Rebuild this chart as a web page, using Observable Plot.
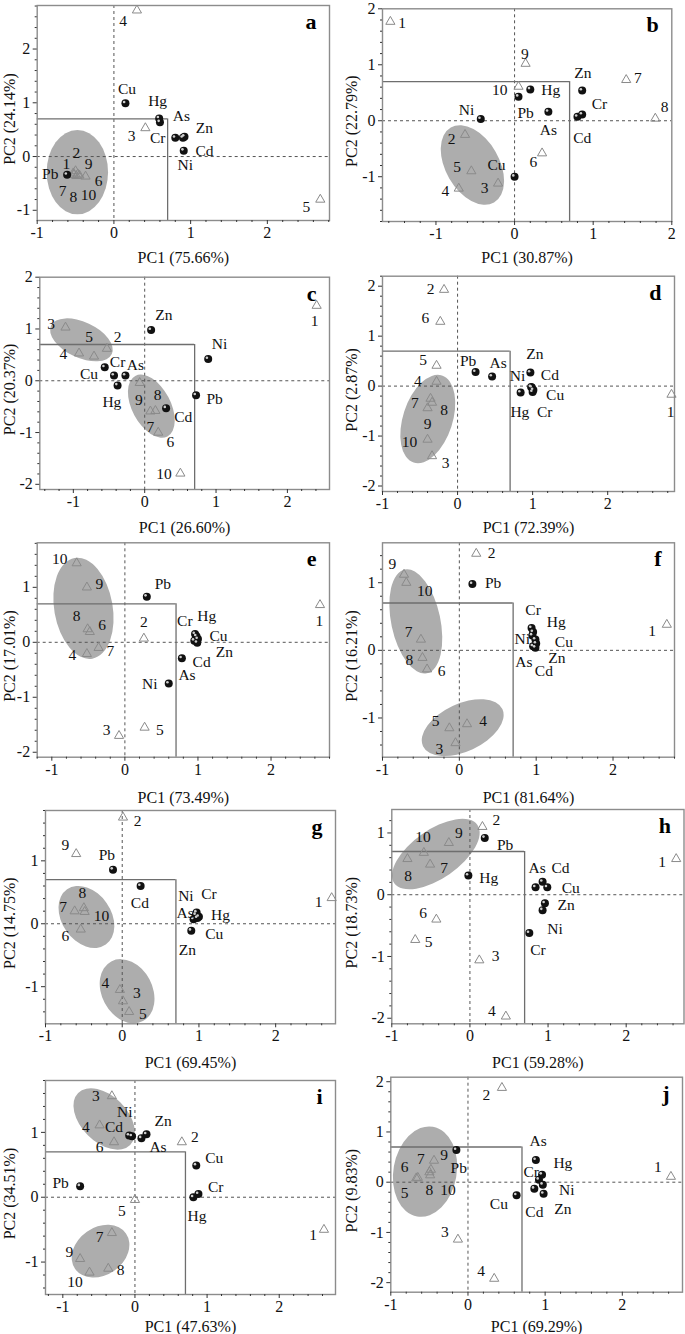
<!DOCTYPE html>
<html><head><meta charset="utf-8">
<script src="https://cdn.jsdelivr.net/npm/d3@7"></script>
<script src="https://cdn.jsdelivr.net/npm/@observablehq/plot@0.6"></script>
<style>
body{margin:0;background:#fff;}
#wrap{position:relative;width:685px;height:1334px;overflow:hidden;}
.panel{position:absolute;}
g[aria-label="y-title"] text{letter-spacing:1.6px;}
</style></head><body><div id="wrap"></div>
<script>
// ---------- data: [name, PC1, PC2] ----------
const panelIds = ["a","b","c","d","e","f","g","h","i","j"];
const pc1Titles = ["PC1 (75.66%)","PC1 (30.87%)","PC1 (26.60%)","PC1 (72.39%)","PC1 (73.49%)","PC1 (81.64%)","PC1 (69.45%)","PC1 (59.28%)","PC1 (47.63%)","PC1 (69.29%)"];
const pc2Titles = ["PC2 (24.14%)","PC2 (22.79%)","PC2 (20.37%)","PC2 (2.87%)","PC2 (17.01%)","PC2 (16.21%)","PC2 (14.75%)","PC2 (18.73%)","PC2 (34.51%)","PC2 (9.83%)"];
const xTickValues = [-1,0,1,2];
const yTickValues = [[-1,0,1,2],[-1,0,1,2],[-2,-1,0,1,2],[-2,-1,0,1,2],[-2,-1,0,1],[-1,0,1],[-1,0,1],[-2,-1,0,1],[-1,0,1],[-2,-1,0,1,2]];
const boxThreshold = 0.7;

const elemA = [["Cu",0.15,0.99],["Hg",0.59,0.71],["As",0.60,0.64],["Cr",0.80,0.35],["Zn",0.92,0.37],["Ni",0.90,0.35],["Cd",0.91,0.11],["Pb",-0.61,-0.34]];
const sampA = [[1,-0.53,-0.31],[2,-0.50,-0.27],[3,0.41,0.53],[4,0.30,2.72],[5,2.69,-0.80],[6,-0.37,-0.37],[7,-0.52,-0.34],[8,-0.49,-0.36],[9,-0.47,-0.33],[10,-0.45,-0.35]];
const labA = [["4",0.12,2.52],["Cu",0.17,1.26],["Hg",0.57,1.04],["As",0.88,0.75],["Zn",1.18,0.53],["3",0.23,0.39],["Cr",0.57,0.35],["Cd",1.18,0.11],["Ni",0.93,-0.16],["2",-0.49,0.06],["1",-0.62,-0.14],["9",-0.33,-0.14],["Pb",-0.83,-0.32],["6",-0.20,-0.45],["7",-0.67,-0.65],["8",-0.53,-0.76],["10",-0.33,-0.71],["5",2.51,-0.94]];
const ellA = [[-0.47,-0.30,0.40,0.55,0]];

const elemB = [["Ni",-0.43,0.03],["Pb",0.05,0.43],["Hg",0.20,0.56],["As",0.43,0.16],["Zn",0.86,0.54],["Cr",0.86,0.11],["Cd",0.80,0.07],["Cu",0.0,-1.0]];
const sampB = [[1,-1.58,1.77],[2,-0.63,-0.25],[3,-0.21,-1.12],[4,-0.71,-1.21],[5,-0.55,-0.90],[6,0.35,-0.58],[7,1.42,0.73],[8,1.79,0.04],[9,0.14,1.02],[10,0.05,0.61]];
const labB = [["1",-1.43,1.75],["9",0.13,1.19],["Zn",0.87,0.85],["7",1.57,0.76],["10",-0.19,0.55],["Hg",0.46,0.54],["Cr",1.08,0.29],["8",1.91,0.25],["Ni",-0.61,0.19],["Pb",0.14,0.13],["As",0.43,-0.16],["Cd",0.86,-0.31],["2",-0.80,-0.32],["6",0.24,-0.74],["5",-0.73,-0.83],["Cu",-0.23,-0.79],["4",-0.88,-1.25],["3",-0.38,-1.21]];
const ellB = [[-0.53,-0.80,0.55,0.34,60]];

const elemC = [["Zn",0.09,0.98],["Ni",0.89,0.42],["Cu",-0.56,0.26],["Cr",-0.43,0.10],["As",-0.27,0.10],["Hg",-0.38,-0.09],["Pb",0.72,-0.28],["Cd",0.30,-0.53]];
const sampC = [[1,2.41,1.45],[2,-0.53,0.62],[3,-1.11,1.03],[4,-0.92,0.53],[5,-0.71,0.47],[6,0.19,-1.0],[7,0.08,-0.59],[8,0.15,-0.58],[9,-0.07,-0.04],[10,0.50,-1.79]];
const labC = [["1",2.38,1.16],["Zn",0.27,1.27],["3",-1.31,1.10],["5",-0.78,0.84],["2",-0.38,0.85],["Ni",1.05,0.71],["4",-1.14,0.52],["Cr",-0.38,0.37],["As",-0.13,0.31],["Cu",-0.78,0.13],["Hg",-0.46,-0.41],["9",-0.08,-0.37],["8",0.18,-0.28],["Pb",0.98,-0.35],["Cd",0.54,-0.70],["7",0.08,-0.89],["6",0.36,-1.18],["10",0.27,-1.81]];
const ellC = [[-0.88,0.78,0.47,0.25,25],[0.10,-0.50,0.48,0.27,62]];

const elemD = [["Pb",0.24,0.28],["As",0.46,0.19],["Zn",0.97,0.27],["Ni",0.98,-0.02],["Cd",0.99,-0.03],["Cu",1.01,-0.08],["Cr",1.0,-0.12],["Hg",0.84,-0.13]];
const sampD = [[1,2.85,-0.17],[2,-0.18,1.93],[3,-0.34,-1.40],[4,-0.28,0.09],[5,-0.28,0.41],[6,-0.23,1.29],[7,-0.36,-0.25],[8,-0.34,-0.33],[9,-0.40,-0.44],[10,-0.40,-1.07]];
const labD = [["2",-0.36,1.95],["6",-0.43,1.36],["Zn",1.03,0.65],["5",-0.46,0.53],["Pb",0.14,0.51],["As",0.54,0.46],["Ni",0.80,0.21],["Cd",1.23,0.23],["4",-0.53,0.11],["Cu",1.30,-0.17],["7",-0.57,-0.34],["8",-0.18,-0.47],["Hg",0.83,-0.51],["Cr",1.16,-0.51],["1",2.84,-0.52],["9",-0.40,-0.75],["10",-0.64,-1.12],["3",-0.16,-1.54]];
const ellD = [[-0.39,-0.67,0.61,0.33,-72]];

const elemE = [["Pb",0.30,0.83],["Cr",0.96,0.15],["Hg",0.98,0.11],["Cu",1.0,0.06],["Cd",0.95,0.03],["Zn",0.99,-0.01],["As",0.78,-0.29],["Ni",0.60,-0.75]];
const sampE = [[1,2.67,0.68],[2,0.26,0.07],[3,-0.08,-1.70],[4,-0.52,-0.21],[5,0.27,-1.55],[6,-0.48,0.19],[7,-0.36,-0.10],[8,-0.51,0.24],[9,-0.52,1.0],[10,-0.66,1.44]];
const labE = [["10",-0.89,1.52],["Pb",0.52,1.06],["9",-0.35,1.06],["8",-0.66,0.47],["6",-0.31,0.32],["2",0.26,0.36],["Cr",0.82,0.38],["Hg",1.12,0.47],["1",2.66,0.39],["Cu",1.28,0.12],["Zn",1.36,-0.18],["7",-0.20,-0.15],["4",-0.72,-0.23],["Cd",1.05,-0.35],["As",0.85,-0.59],["Ni",0.34,-0.76],["3",-0.25,-1.59],["5",0.48,-1.59]];
const ellE = [[-0.56,0.61,0.70,0.40,80]];

const elemF = [["Pb",0.17,0.98],["Cr",0.94,0.33],["Hg",0.96,0.27],["Ni",0.95,0.22],["Cu",0.99,0.16],["Zn",1.0,0.10],["As",0.96,0.06],["Cd",0.99,0.04]];
const sampF = [[1,2.70,0.38],[2,0.22,1.43],[3,-0.05,-1.37],[4,0.10,-1.09],[5,-0.13,-1.15],[6,-0.42,-0.28],[7,-0.50,0.16],[8,-0.48,-0.11],[9,-0.72,1.12],[10,-0.69,1.0]];
const labF = [["2",0.42,1.44],["9",-0.87,1.27],["Pb",0.44,1.0],["10",-0.45,0.88],["Cr",0.96,0.59],["Hg",1.26,0.42],["7",-0.66,0.27],["1",2.51,0.28],["Ni",0.82,0.16],["Cu",1.36,0.12],["8",-0.65,-0.15],["Zn",1.27,-0.11],["As",0.84,-0.17],["6",-0.23,-0.31],["Cd",1.10,-0.31],["4",0.31,-1.04],["5",-0.31,-1.04],["3",-0.26,-1.46]];
const ellF = [[-0.56,0.42,0.69,0.32,78],[0.05,-1.15,0.57,0.31,-25]];

const elemG = [["Pb",-0.12,0.86],["Cd",0.24,0.60],["Cr",0.97,0.18],["Ni",0.96,0.14],["Hg",1.0,0.11],["As",0.93,0.07],["Cu",0.98,0.09],["Zn",0.90,-0.11]];
const sampG = [[1,2.73,0.41],[2,0.01,1.69],[3,0.01,-1.23],[4,-0.03,-1.05],[5,0.09,-1.40],[6,-0.54,-0.09],[7,-0.62,0.20],[8,-0.50,0.25],[9,-0.60,1.11],[10,-0.49,0.19]];
const labG = [["2",0.20,1.64],["9",-0.74,1.25],["Pb",-0.20,1.10],["8",-0.52,0.49],["Ni",0.83,0.44],["Cr",1.13,0.48],["Cd",0.23,0.33],["1",2.56,0.34],["7",-0.77,0.26],["As",0.82,0.17],["Hg",1.28,0.14],["10",-0.27,0.12],["6",-0.74,-0.20],["Cu",1.20,-0.16],["Zn",0.85,-0.41],["4",-0.22,-0.95],["3",0.19,-1.10],["5",0.27,-1.43]];
const ellG = [[-0.46,0.10,0.44,0.32,55],[0.07,-1.08,0.44,0.33,62]];

const elemH = [["Pb",0.19,0.92],["Hg",-0.02,0.31],["As",0.84,0.12],["Cd",0.93,0.21],["Cu",0.99,0.12],["Zn",0.96,-0.14],["Ni",0.93,-0.25],["Cr",0.76,-0.62]];
const sampH = [[1,2.64,0.58],[2,0.16,1.10],[3,0.12,-1.06],[4,0.46,-1.97],[5,-0.70,-0.73],[6,-0.43,-0.40],[7,-0.51,0.49],[8,-0.80,0.58],[9,-0.27,0.84],[10,-0.59,0.68]];
const labH = [["2",0.34,1.21],["10",-0.60,0.94],["9",-0.14,1.0],["Pb",0.45,0.80],["As",0.86,0.43],["Cd",1.16,0.43],["1",2.46,0.53],["7",-0.33,0.43],["8",-0.79,0.30],["Hg",0.24,0.27],["Cu",1.29,0.11],["Zn",1.23,-0.16],["6",-0.60,-0.29],["Ni",1.09,-0.55],["5",-0.53,-0.77],["Cr",0.87,-0.89],["3",0.33,-0.99],["4",0.28,-1.88]];
const ellH = [[-0.43,0.65,0.65,0.31,-35]];

const elemI = [["Ni",-0.08,0.95],["Cd",-0.04,0.94],["As",0.09,0.91],["Zn",0.16,0.97],["Pb",-0.76,0.17],["Cu",0.85,0.49],["Cr",0.88,0.05],["Hg",0.81,0.0]];
const sampI = [[1,2.62,-0.50],[2,0.65,0.85],[3,-0.32,1.56],[4,-0.49,1.11],[5,0.0,-0.04],[6,-0.29,0.85],[7,-0.32,-0.55],[8,-0.37,-1.10],[9,-0.76,-0.95],[10,-0.63,-1.16]];
const labI = [["3",-0.54,1.56],["Ni",-0.14,1.31],["Zn",0.39,1.17],["4",-0.68,1.09],["Cd",-0.29,1.09],["2",0.83,0.93],["6",-0.49,0.78],["As",0.32,0.78],["Cu",1.10,0.61],["Pb",-1.03,0.22],["Cr",1.12,0.15],["5",-0.18,-0.21],["Hg",0.86,-0.29],["7",-0.49,-0.62],["1",2.47,-0.59],["9",-0.91,-0.85],["8",-0.20,-1.12],["10",-0.83,-1.31]];
const ellI = [[-0.42,1.20,0.51,0.32,45],[-0.47,-0.84,0.43,0.33,-35]];

const elemJ = [["Pb",-0.15,0.64],["As",0.88,0.44],["Hg",0.96,0.15],["Cr",0.92,0.05],["Ni",0.97,-0.05],["Cd",0.86,-0.13],["Zn",0.98,-0.23],["Cu",0.63,-0.26]];
const sampJ = [[1,2.63,0.11],[2,0.44,1.88],[3,-0.13,-1.14],[4,0.34,-1.92],[5,-0.67,0.08],[6,-0.65,0.09],[7,-0.48,0.25],[8,-0.49,0.14],[9,-0.44,0.43],[10,-0.50,0.20]];
const labJ = [["2",0.24,1.74],["As",0.91,0.81],["7",-0.61,0.46],["9",-0.31,0.55],["Hg",1.23,0.39],["6",-0.82,0.30],["Pb",-0.12,0.28],["1",2.46,0.30],["Cr",0.82,0.21],["Ni",1.28,-0.16],["5",-0.82,-0.22],["8",-0.50,-0.16],["10",-0.26,-0.16],["Cu",0.40,-0.43],["Cd",0.86,-0.59],["Zn",1.23,-0.53],["3",-0.30,-0.99],["4",0.17,-1.76]];
const ellJ = [[-0.55,0.20,0.59,0.41,-80]];

// ---------- layout (placement of each panel) ----------
const layout = [
 {left:0,   top:0,    w:342, h:265, ml:36.7, mr:13,   mt:5,    mb:45,   xd:[-1,2.81],    yd:[-1.19,2.81]},
 {left:342, top:0,    w:343, h:265, ml:40,   mr:13.7, mt:8.3,  mb:44,   xd:[-1.68,2.0],  yd:[-1.80,2.0]},
 {left:0,   top:265,  w:342, h:270, ml:39.3, mr:13,   mt:11.7, mb:46,   xd:[-1.47,2.59], yd:[-2.1,2.0]},
 {left:342, top:265,  w:343, h:270, ml:40,   mr:11,   mt:10.7, mb:44,   xd:[-1,2.89],    yd:[-2.11,2.2]},
 {left:0,   top:535,  w:342, h:270, ml:36.7, mr:13,   mt:7.3,  mb:48.3, xd:[-1.2,2.8],   yd:[-2.09,1.81]},
 {left:342, top:535,  w:343, h:270, ml:40,   mr:11,   mt:7.3,  mb:48.3, xd:[-1,2.8],     yd:[-1.58,1.59]},
 {left:0,   top:805,  w:342, h:265, ml:45,   mr:7,    mt:5,    mb:46.7, xd:[-1,2.78],    yd:[-1.59,1.80]},
 {left:342, top:805,  w:343, h:265, ml:49.3, mr:1.5,  mt:4,    mb:46.7, xd:[-1,2.74],    yd:[-2.09,1.38]},
 {left:0,   top:1070, w:342, h:264, ml:45,   mr:7,    mt:10,   mb:40,   xd:[-1.24,2.78], yd:[-1.50,1.80]},
 {left:342, top:1070, w:343, h:264, ml:48.3, mr:3,    mt:6.7,  mb:42.3, xd:[-1,2.78],    yd:[-2.19,2.09]}
];
const elems = [elemA,elemB,elemC,elemD,elemE,elemF,elemG,elemH,elemI,elemJ];
const samps = [sampA,sampB,sampC,sampD,sampE,sampF,sampG,sampH,sampI,sampJ];
const labs  = [labA,labB,labC,labD,labE,labF,labG,labH,labI,labJ];
const ells  = [ellA,ellB,ellC,ellD,ellE,ellF,ellG,ellH,ellI,ellJ];

const FONT = "'Liberation Serif','Times New Roman',Times,serif";

function minorTicks([a, b]) {
  const out = [];
  for (let i = Math.ceil(a * 5 - 1e-9); i <= Math.floor(b * 5 + 1e-9); i++) {
    if (i % 5 !== 0) out.push(i / 5);
  }
  return out;
}

function ellipseMark(list, L) {
  return (index, scales) => {
    const sx = (scales && scales.x) || d3.scaleLinear(L.xd, [L.ml, L.w - L.mr]);
    const sy = (scales && scales.y) || d3.scaleLinear(L.yd, [L.h - L.mb, L.mt]);
    const k = Math.abs(sx(1) - sx(0));
    const g = d3.create("svg:g");
    for (const [cx, cy, a, b, ang] of list) {
      const px = sx(cx), py = sy(cy);
      g.append("ellipse").attr("cx", px).attr("cy", py)
        .attr("rx", a * k).attr("ry", b * k)
        .attr("transform", `rotate(${ang} ${px} ${py})`)
        .attr("fill", "#adadad");
    }
    return g.node();
  };
}

const wrap = document.getElementById("wrap");
layout.forEach((L, p) => {
  const X = d => d[1], Y = d => d[2];
  const plot = Plot.plot({
    width: L.w, height: L.h,
    marginLeft: L.ml, marginRight: L.mr, marginTop: L.mt, marginBottom: L.mb,
    x: {domain: L.xd, label: null},
    y: {domain: L.yd, label: null},
    style: {fontFamily: FONT, fontSize: "16px", color: "#111", background: "transparent", overflow: "visible"},
    marks: [
      ellipseMark(ells[p], L),
      Plot.ruleX([0], {stroke: "#555", strokeDasharray: "3,3", strokeWidth: 1}),
      Plot.ruleY([0], {stroke: "#555", strokeDasharray: "3,3", strokeWidth: 1}),
      Plot.ruleY([boxThreshold], {x1: L.xd[0], x2: boxThreshold, stroke: "#6e6e6e", strokeWidth: 1.3}),
      Plot.ruleX([boxThreshold], {y1: L.yd[0], y2: boxThreshold, stroke: "#6e6e6e", strokeWidth: 1.3}),
      Plot.frame({stroke: "#8c8c8c", strokeWidth: 1.4}),
      Plot.axisX(xTickValues, {tickSize: 4, tickPadding: 2, tickFormat: d => String(d), stroke: "#333",
        label: pc1Titles[p], labelAnchor: "center", labelArrow: "none", fontSize: 16}),
      Plot.axisX(minorTicks(L.xd), {tickSize: 2, tickFormat: () => "", label: null, stroke: "#333"}),
      Plot.axisY(yTickValues[p], {tickSize: 4, tickPadding: 3, tickFormat: d => String(d), stroke: "#333",
        label: null, fontSize: 16}),
      Plot.axisY(minorTicks(L.yd), {tickSize: 2, tickFormat: () => "", label: null, stroke: "#333"}),
      Plot.text([pc2Titles[p]], {text: d => d, frameAnchor: "left", rotate: -90, dx: -(L.ml - 9), dy: 6,
        textAnchor: "middle", lineAnchor: "middle", fontSize: 16, fill: "#111", ariaLabel: "y-title"}),
      Plot.dot(samps[p], {x: X, y: Y, symbol: "triangle", r: 3.4, stroke: "#8a8a8a", fill: "none", strokeWidth: 1}),
      Plot.dot(elems[p], {x: X, y: Y, r: 4, fill: "#111"}),
      Plot.dot(elems[p], {x: X, y: Y, r: 1.3, fill: "#cfcfcf", dx: -1.3, dy: -1.3}),
      Plot.text(labs[p], {x: X, y: Y, text: d => d[0], fontSize: 15.5, fill: "#111"}),
      Plot.text([panelIds[p]], {text: d => d, frameAnchor: "top-right", dx: -13, dy: 8, fontWeight: "bold", fontSize: 22, fill: "#000"})
    ]
  });
  const div = document.createElement("div");
  div.className = "panel";
  div.style.left = L.left + "px";
  div.style.top = L.top + "px";
  div.appendChild(plot);
  wrap.appendChild(div);
});
</script></body></html>
